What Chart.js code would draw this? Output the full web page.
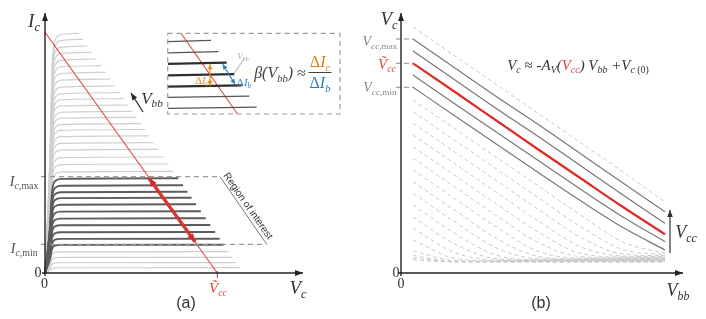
<!DOCTYPE html>
<html><head><meta charset="utf-8">
<script src="https://cdn.jsdelivr.net/npm/chart.js@4"></script>
<style>
html,body{margin:0;padding:0;background:#fff;}
#wrap{position:relative;width:706px;height:319px;overflow:hidden;background:#fff;}
canvas{position:absolute;top:0;}
.lb{position:absolute;transform:translate(-50%,-50%);white-space:nowrap;font-family:"Liberation Serif","DejaVu Serif",serif;font-style:italic;color:#333;line-height:1;z-index:2;}
.lb sub{font-size:66%;vertical-align:-0.35em;line-height:0;}
.up{font-style:normal;}
.sans{font-family:"Liberation Sans","DejaVu Sans",sans-serif;font-style:normal;}
</style></head>
<body>
<div id="wrap">
<canvas id="ca" width="353" height="319" style="left:0"></canvas>
<canvas id="cb" width="353" height="319" style="left:353px"></canvas>
</div>
<script>
// ---------- panel (a): I_c vs V_c characteristic curves ----------
const curveLevels = [239.7, 233.7, 227, 220.7, 214, 207.3, 200.7, 194, 187, 180.3, 174.3, 168, 161.7, 155.7, 149.3, 143.5, 137.2, 130.4, 123.7, 116, 109, 101.7,
  94.7, 87.8, 81.3, 75.3, 68.7, 61.7, 54.7, 48, 41, 34.3, 28.3, 21.3, 15.7, 10.3, 5.3];
const curveEnds = [34, 38, 42.7, 47, 51.6, 56.2, 60.7, 65.3, 70.1, 74.7, 78.8, 83.1, 87.4, 91.5, 95.9, 99.9, 104.2, 108.9, 113.5, 118.7, 123.5, 128.5,
  133.3, 138, 142.5, 146.6, 151.1, 155.9, 160.7, 165.3, 170.1, 174.7, 178.8, 183.6, 187.4, 191.1, 194.7];
const kneeX = [0, 5, 7, 10, 16];
const kneeFrac = [0, 0.5, 0.85, 0.97, 0.994];
const icMax = 96.3, icMin = 28.7;
const regionCorner = [[175, 96.3], [221.7, 28.7]];
const loadLine = [[0, 240.7], [172.3, 0]];
const loadSegment = [[104, 94.8], [150, 31.2]];
const vccTick = [[172.3, 2], [172.3, -5]];
const vbbArrowA = [[98, 161], [86, 180]];
// inset
const insetBox = [[122.7, 239.7], [295, 239.7], [295, 159], [122.7, 159], [122.7, 239.7]];
const insetLevels = [232, 220.7, 209.7, 198.3, 187, 176.3, 165.3];
const insetEnds = [166, 173.3, 181.7, 189.3, 196.7, 204.3, 211.7];
const insetStart = 123;
const insetDark = [false, false, true, true, true, false, false];
const insetLoad = [[136, 239.7], [192.7, 158.7]];
const dIcArrow = [[165, 208.7], [165, 187.3]];
const dIbArrow = [[177.7, 208.7], [190, 188.7]];
const vbbPointer = [[199.5, 215], [189.5, 200]];

// ---------- panel (b): V_c vs V_bb ----------
const vbbGrid = [12, 54, 96, 138, 180, 222, 264];
const vcAbove = [246, 217, 188, 159, 130, 101, 71];
const vcSolid = [
  [234, 205, 176, 148, 119, 90, 61.3],
  [222, 193, 164, 136, 107, 78, 49.7],
  [198, 169, 140.5, 112, 83.5, 56, 31.3],
  [185.7, 157, 128.5, 100, 72, 45.5, 23]
];
const vcNominal = [209.7, 181, 152, 123, 94.5, 66, 38.7];
const vcBelow = [
  [173, 144.2, 115.3, 86.5, 57.7, 30.9, 19.5],
  [161.3, 132.5, 103.6, 74.8, 46.1, 23.4, 18.3],
  [149.7, 120.9, 92, 63.2, 35.4, 19, 17.3],
  [138, 109.2, 80.3, 51.6, 26, 17, 16.5],
  [126.3, 97.5, 68.6, 40.4, 19.5, 16, 15.8],
  [114.7, 85.9, 57, 30, 16.3, 15.2, 15.2],
  [103, 74.2, 45.6, 21.3, 14.9, 14.6, 14.6],
  [91.3, 62.5, 34.4, 16.4, 14.1, 14.1, 14.1],
  [79.7, 50.9, 24.8, 14.2, 13.6, 13.6, 13.6],
  [68, 39.6, 17.6, 13.3, 13.2, 13.2, 13.2],
  [56.3, 28.8, 14.1, 12.8, 12.8, 12.8, 12.8],
  [44.7, 20.3, 12.8, 12.4, 12.4, 12.4, 12.4],
  [33, 14.6, 12.1, 12, 12, 12, 12],
  [22, 12.4, 11.7, 11.7, 11.7, 11.7, 11.7],
  [17.5, 11.6, 11.4, 11.4, 11.4, 11.4, 11.4],
  [15, 11.3, 11.2, 11.2, 11.2, 11.2, 11.2],
  [13, 11.05, 11, 11, 11, 11, 11]
];
const vccLevels = [234, 209.7, 185.7];
const vccArrowB = [[269, 20], [269, 63]];

// ---------- helpers ----------
const P = a => a.map(p => ({x: p[0], y: p[1]}));
function line(data, color, width, extra) {
  return Object.assign({data: P(data), showLine: true, borderColor: color, borderWidth: width,
    pointRadius: 0, fill: false, clip: false, tension: 0}, extra || {});
}
function head(ctx, x1, y1, x2, y2, len, w, color) {
  const a = Math.atan2(y2 - y1, x2 - x1), c = Math.cos(a), s = Math.sin(a);
  ctx.fillStyle = color; ctx.beginPath(); ctx.moveTo(x2, y2);
  ctx.lineTo(x2 - len * c + w * s, y2 - len * s - w * c);
  ctx.lineTo(x2 - len * c - w * s, y2 - len * s + w * c);
  ctx.closePath(); ctx.fill();
}
function arrowPlugin(id, specs) {
  return {id, afterDatasetsDraw(chart) {
    const ctx = chart.ctx, xs = chart.scales.x, ys = chart.scales.y;
    ctx.save();
    specs.forEach(s => {
      const a = [xs.getPixelForValue(s.p[0][0]), ys.getPixelForValue(s.p[0][1])];
      const b = [xs.getPixelForValue(s.p[1][0]), ys.getPixelForValue(s.p[1][1])];
      if (s.width) { ctx.strokeStyle = s.color; ctx.lineWidth = s.width; ctx.beginPath(); ctx.moveTo(a[0], a[1]); ctx.lineTo(b[0], b[1]); ctx.stroke(); }
      head(ctx, a[0], a[1], b[0], b[1], s.len, s.w, s.color);
      if (s.both) head(ctx, b[0], b[1], a[0], a[1], s.len, s.w, s.color);
    });
    ctx.restore();
  }};
}
const baseOpts = (padL, padR, xmax) => ({
  responsive: false, animation: false, devicePixelRatio: 1,
  layout: {padding: {left: padL, right: padR, top: 13, bottom: 46}},
  scales: {x: {type: 'linear', min: 0, max: xmax, display: false}, y: {type: 'linear', min: 0, max: 260, display: false}},
  plugins: {legend: {display: false}, tooltip: {enabled: false}},
  elements: {line: {capBezierPoints: false}}
});

// ---------- chart (a) ----------
const dsA = [];
const GUIDE = '#9a9a9a';
dsA.push(line([[-4, icMax], regionCorner[0]], GUIDE, 1.2, {borderDash: [5, 4]}));
dsA.push(line([[-4, icMin], regionCorner[1]], GUIDE, 1.2, {borderDash: [5, 4]}));
dsA.push(line(regionCorner, '#777', 1));
curveLevels.forEach((L, i) => {
  const dark = L <= icMax + 0.5 && L >= icMin - 0.5;
  const pts = kneeX.map((x, k) => [x, L * kneeFrac[k]]);
  pts.push([curveEnds[i], L]);
  dsA.push(line(pts, dark ? '#5c5c5c' : '#cfcfcf', dark ? 1.9 : 1.2, {cubicInterpolationMode: 'monotone', order: dark ? 1 : 2}));
});
dsA.push(line(loadLine, '#e0443f', 1.1, {order: 0}));
dsA.push(line(vccTick, '#e0443f', 1.1, {order: 0}));
dsA.push(line(insetBox, GUIDE, 1.2, {borderDash: [5, 4]}));
insetLevels.forEach((L, i) => {
  dsA.push(line([[insetStart, L - 0.6], [insetEnds[i], L + 0.6]], insetDark[i] ? '#2e2e2e' : '#555', insetDark[i] ? 2.2 : 1.3));
});
dsA.push(line(insetLoad, '#e0443f', 1.1, {order: 0}));
dsA.push(line(vbbPointer, '#aaaaaa', 1));
dsA.push(line(loadSegment, '#d42a26', 3.2, {order: 0}));

const axesA = [
  {p: [[0, -3], [0, 260]], color: '#222', width: 1.4, len: 8, w: 3},
  {p: [[-3, 0], [258, 0]], color: '#222', width: 1.4, len: 8, w: 3},
  {p: loadSegment, color: '#d42a26', width: 0, len: 8, w: 3.5, both: true},
  {p: vbbArrowA, color: '#222', width: 1.2, len: 7, w: 2.8},
  {p: dIcArrow, color: '#f08a24', width: 1.3, len: 5, w: 2.5, both: true},
  {p: dIbArrow, color: '#2b7cc0', width: 1.1, len: 5, w: 2.3, both: true}
];
new Chart(document.getElementById('ca'), {type: 'scatter', data: {datasets: dsA},
  options: baseOpts(45, 50, 258), plugins: [arrowPlugin('arrA', axesA)]});

// ---------- chart (b) ----------
const dsB = [];
const grid = ys => vbbGrid.map((x, i) => [x, ys[i]]);
vccLevels.forEach(v => dsB.push(line([[-5, v], [12, v]], '#8a8a8a', 1.1, {borderDash: [5, 3]})));
vcBelow.forEach(r => dsB.push(line(grid(r), '#c9c9c9', 1, {borderDash: [4, 3], cubicInterpolationMode: 'monotone'})));
dsB.push(line(grid(vcAbove), '#c9c9c9', 1, {borderDash: [4, 3], cubicInterpolationMode: 'monotone'}));
vcSolid.forEach(r => dsB.push(line(grid(r), '#777', 1.2, {cubicInterpolationMode: 'monotone'})));
dsB.push(line(grid(vcNominal), '#e02a26', 2.2, {cubicInterpolationMode: 'monotone'}));
const axesB = [
  {p: [[0, -3], [0, 260]], color: '#222', width: 1.4, len: 8, w: 3},
  {p: [[-3, 0], [282, 0]], color: '#222', width: 1.4, len: 8, w: 3},
  {p: vccArrowB, color: '#333', width: 1.2, len: 7, w: 2.8}
];
new Chart(document.getElementById('cb'), {type: 'scatter', data: {datasets: dsB},
  options: baseOpts(48, 23, 282), plugins: [arrowPlugin('arrB', axesB)]});

// ---------- text labels ----------
const labels = [
  ['I<sub>c</sub>', 34, 20, 19],
  ['<span class="up">0</span>', 38, 273, 14],
  ['<span class="up">0</span>', 44.5, 284, 14],
  ['I<sub>c,<span class="up">max</span></sub>', 24, 181, 15, '#555'],
  ['I<sub>c,<span class="up">min</span></sub>', 24, 248, 15, '#555'],
  ['V<sub>c</sub>', 298, 287, 19],
  ['V&#771;<sub>cc</sub>', 218, 288, 15, '#e0443f'],
  ['<span class="sans">(a)</span>', 186, 303, 16],
  ['V<sub>bb</sub>', 152, 98, 17],
  ['<span class="sans" style="display:inline-block;transform:rotate(55deg)">Region of interest</span>', 248, 206, 10],
  ['V<sub>bb</sub>', 243, 56, 9, '#aaa'],
  ['<span class="up">&Delta;</span>I<sub>c</sub>', 202, 80, 11, '#f08a24'],
  ['<span class="up">&Delta;</span>I<sub>b</sub>', 244, 82, 11, '#2b7cc0'],
  ['&beta;(V<sub>bb</sub>) <span class="up">&asymp;</span>', 280, 73, 16, '#444'],
  ['<span class="up">&Delta;</span>I<sub>c</sub>', 320, 62, 16, '#e07b20'],
  ['<span style="display:inline-block;width:23px;height:1.2px;background:#444;vertical-align:middle"></span>', 320, 72, 10],
  ['<span class="up">&Delta;</span>I<sub>b</sub>', 320, 83, 16, '#2b7cc0'],
  ['V<sub>c</sub>', 389, 18, 19],
  ['V<sub>cc,<span class="up">max</span></sub>', 380, 41.5, 14, '#888'],
  ['V&#771;<sub>cc</sub>', 387, 64, 15, '#e0443f'],
  ['V<sub>cc,<span class="up">min</span></sub>', 380, 88, 14, '#888'],
  ['<span class="up">0</span>', 396, 273, 14],
  ['<span class="up">0</span>', 401, 284, 14],
  ['V<sub>bb</sub>', 678, 290, 18],
  ['<span class="sans">(b)</span>', 541, 303, 16],
  ['V<sub>c</sub> <span class="up">&asymp;</span> -A<sub>V</sub>(<span style="color:#e0443f">V<sub>cc</sub></span>) V<sub>bb</sub> +V<sub>c <span class="up">(0)</span></sub>', 578, 65, 15, '#333'],
  ['V<sub>cc</sub>', 686, 232, 18]
];
const wrap = document.getElementById('wrap');
labels.forEach(l => {
  const d = document.createElement('div');
  d.className = 'lb'; d.innerHTML = l[0];
  d.style.left = l[1] + 'px'; d.style.top = l[2] + 'px'; d.style.fontSize = l[3] + 'px';
  if (l[4]) d.style.color = l[4];
  wrap.appendChild(d);
});
</script>
</body></html>
